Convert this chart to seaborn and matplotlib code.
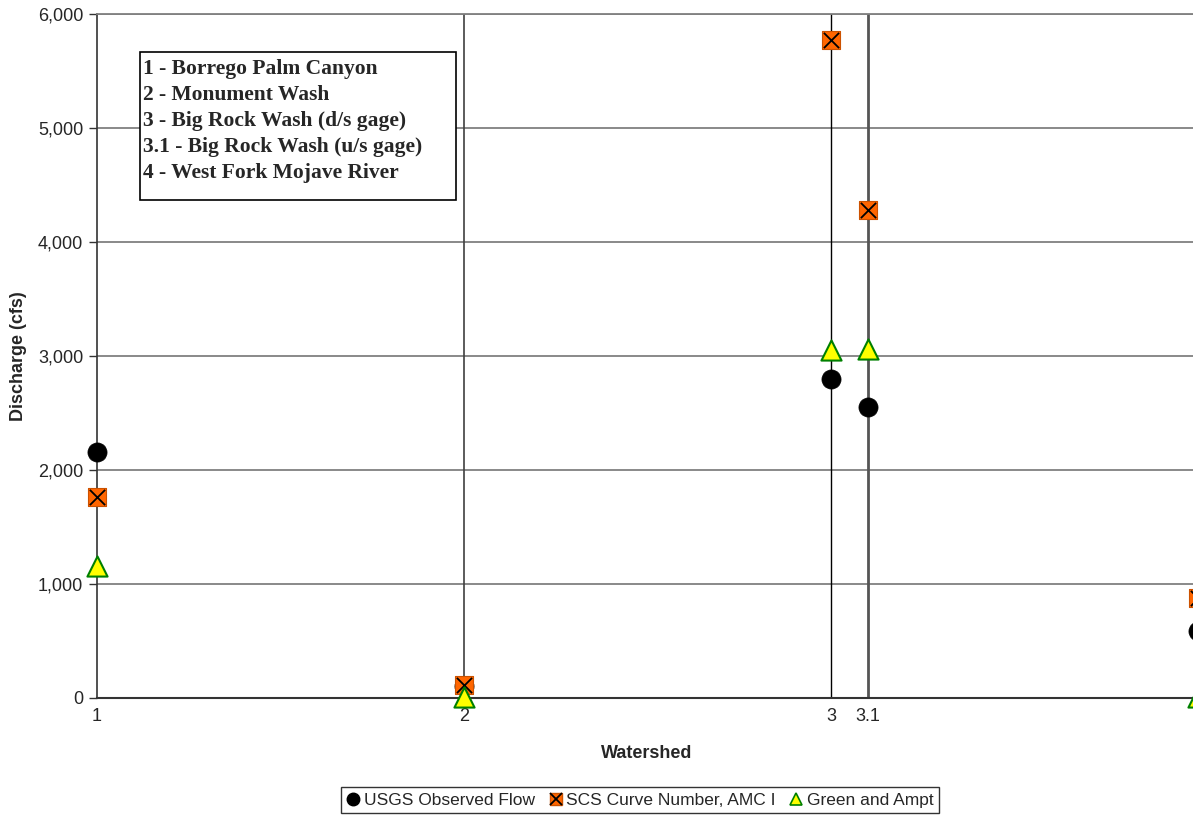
import matplotlib
matplotlib.use("Agg")
import matplotlib.pyplot as plt
from matplotlib.lines import Line2D
from matplotlib.legend_handler import HandlerTuple
from matplotlib.patches import Rectangle
from matplotlib.ticker import FuncFormatter, FixedLocator
import seaborn as sns
import pandas as pd

# Peak discharge (cfs) per watershed
watershed = [1, 2, 3, 3.1, 4]
usgs_observed = [2160, 105, 2800, 2550, 590]
scs_curve_number = [1760, 110, 5770, 4280, 880]
green_ampt = [1160, 10, 3050, 3060, 5]

watershed_names = [
    "1 - Borrego Palm Canyon",
    "2 - Monument Wash",
    "3 - Big Rock Wash (d/s gage)",
    "3.1 - Big Rock Wash (u/s gage)",
    "4 - West Fork Mojave River",
]
x_ticks = [1, 2, 3, 3.1]
x_tick_labels = ["1", "2", "3", "3.1"]
y_ticks = [0, 1000, 2000, 3000, 4000, 5000, 6000]

df = pd.DataFrame({
    "Watershed": watershed,
    "USGS": usgs_observed,
    "SCS": scs_curve_number,
    "GA": green_ampt,
})

sns.set_theme(style="white")
plt.rcParams["font.family"] = ["Liberation Sans", "DejaVu Sans"]

W, H = 1193, 815
fig = plt.figure(figsize=(W / 100, H / 100), dpi=100)
# plot area: x = 1 at px 97, x = 4 at px 1198 (just past the right edge)
left, right, top, bottom = 97, 1198, 14, 698
ax = fig.add_axes([left / W, 1 - bottom / H, (right - left) / W, (bottom - top) / H])

ax.set_xlim(1, 4)
ax.set_ylim(0, 6000)

# horizontal gridlines
for y in y_ticks[1:]:
    ax.axhline(y, color="#808080", lw=1.3, zorder=1)
# vertical lines at the watershed positions
ax.axvline(2, color="#404040", lw=1.2, zorder=1)
ax.axvline(3, color="#000000", lw=1.0, zorder=1)
ax.axvline(3.1, color="#555555", lw=2.0, zorder=1)
ax.axvline(4, color="#555555", lw=2.0, zorder=1)

# markers
sns.scatterplot(data=df, x="Watershed", y="USGS", ax=ax, marker="o", s=190,
                color="black", edgecolor="black", linewidth=0.5, zorder=5, clip_on=False)
sns.scatterplot(data=df, x="Watershed", y="SCS", ax=ax, marker="s", s=160,
                color="#FF6600", edgecolor="#CC5200", linewidth=0.8, zorder=6, clip_on=False)
sns.scatterplot(data=df, x="Watershed", y="SCS", ax=ax, marker="x", s=120,
                color="black", linewidth=1.3, zorder=7, clip_on=False)
sns.scatterplot(data=df, x="Watershed", y="GA", ax=ax, marker="^", s=210,
                color="#FFFF00", edgecolor="#008000", linewidth=1.5, zorder=8, clip_on=False)

# axes styling
ax.spines["right"].set_visible(False)
ax.spines["top"].set_color("#808080")
ax.spines["top"].set_linewidth(1.3)
ax.spines["left"].set_color("#333333")
ax.spines["left"].set_linewidth(1.2)
ax.spines["bottom"].set_color("#333333")
ax.spines["bottom"].set_linewidth(1.5)

ax.yaxis.set_major_locator(FixedLocator(y_ticks))
ax.yaxis.set_major_formatter(FuncFormatter(lambda v, p: f"{int(v):,}"))
ax.xaxis.set_major_locator(FixedLocator(x_ticks))
ax.set_xticklabels(x_tick_labels)
ax.tick_params(axis="y", direction="out", length=6, width=1, color="#333333",
               labelsize=13, pad=4, left=True)
ax.tick_params(axis="x", length=0, labelsize=13, pad=7)
ax.set_xlabel("")
ax.set_ylabel("")

fig.text(647 / W, 1 - 754 / H, "Watershed", ha="center", va="center",
         fontsize=13, fontweight="bold")
fig.text(19 / W, 1 - 356 / H, "Discharge (cfs)", ha="center", va="center",
         rotation=90, fontsize=13, fontweight="bold")

# watershed key box
box_l, box_t, box_r, box_b = 140, 52, 456, 200
fig.patches.append(Rectangle((box_l / W, 1 - box_b / H), (box_r - box_l) / W,
                             (box_b - box_t) / H, transform=fig.transFigure,
                             facecolor="white", edgecolor="black", lw=1.2, zorder=10))
for i, name in enumerate(watershed_names):
    fig.text(143 / W, 1 - (69 + 26.0 * i) / H, name, ha="left", va="center",
             fontsize=15.5, fontweight="bold",
             family=["Liberation Serif", "DejaVu Serif"], zorder=11)

# series legend
h_usgs = Line2D([], [], marker="o", ls="", color="black", markersize=9)
h_scs = (Line2D([], [], marker="s", ls="", markerfacecolor="#FF6600",
                markeredgecolor="#CC5200", markersize=9),
         Line2D([], [], marker="x", ls="", color="black", markersize=8, mew=1.3))
h_ga = Line2D([], [], marker="^", ls="", markerfacecolor="#FFFF00",
              markeredgecolor="#008000", markersize=9, mew=1.2)
leg = fig.legend([h_usgs, h_scs, h_ga],
                 ["USGS Observed Flow", "SCS Curve Number, AMC I", "Green and Ampt"],
                 handler_map={tuple: HandlerTuple(ndivide=1, pad=0)},
                 loc="center", bbox_to_anchor=(640 / W, 1 - 800 / H), ncol=3,
                 fontsize=12.5, frameon=True, fancybox=False, edgecolor="black",
                 handlelength=0.8, handletextpad=0.2, columnspacing=0.8,
                 borderpad=0.3, borderaxespad=0)
leg.get_frame().set_linewidth(1.0)

fig.savefig("out.png", dpi=100)
